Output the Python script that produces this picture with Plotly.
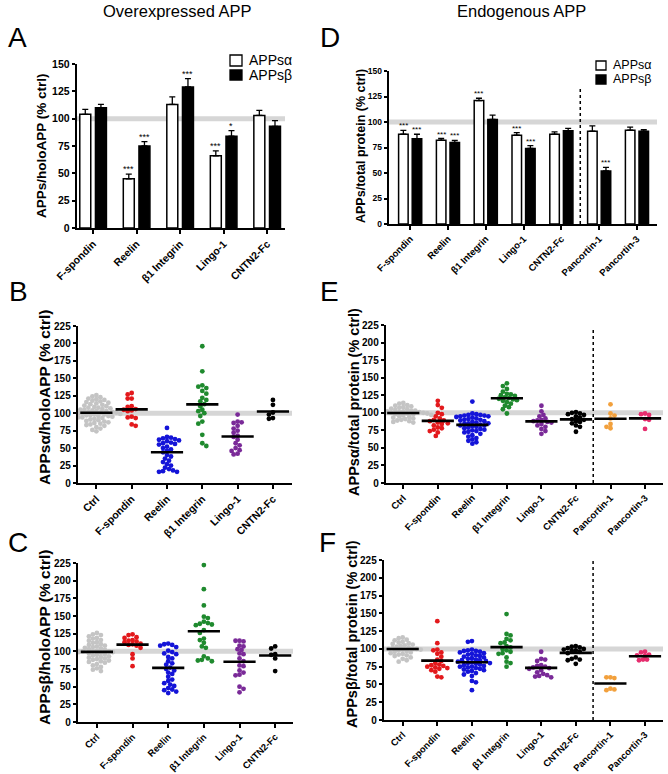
import numpy as np
import plotly.graph_objects as go

W, H = 668, 774
FONT = "Liberation Sans"

# ---------------- Panel A (overexpressed APP, bars) ----------------
catsA = ["F-spondin", "Reelin", "β1 Integrin", "Lingo-1", "CNTN2-Fc"]
A_alpha = [104, 45, 113, 66, 103]
A_alpha_err = [4.5, 4.3, 7, 4.6, 4.5]
A_beta = [110, 75, 129, 84, 93]
A_beta_err = [3, 4, 7.6, 5, 5.3]
A_alpha_stars = ["", "***", "", "***", ""]
A_beta_stars = ["", "***", "***", "*", ""]

# ---------------- Panel D (endogenous APP, bars) ----------------
catsD = ["F-spondin", "Reelin", "β1 Integrin", "Lingo-1", "CNTN2-Fc", "Pancortin-1", "Pancortin-3"]
D_alpha = [88, 82, 121, 87, 88, 91, 92]
D_alpha_err = [3.8, 1.8, 2.3, 2.6, 2.3, 5.2, 3]
D_beta = [83.5, 80, 102.5, 74, 91.5, 52, 91]
D_beta_err = [4.5, 2, 4.2, 2.9, 2.3, 3.6, 1.6]
D_alpha_stars = ["***", "***", "***", "***", "", "", ""]
D_beta_stars = ["***", "***", "", "***", "", "***", ""]

# ---------------- Scatter categories ----------------
catsL = ["Ctrl", "F-spondin", "Reelin", "β1 Integrin", "Lingo-1", "CNTN2-Fc"]
catsR = ["Ctrl", "F-spondin", "Reelin", "β1 Integrin", "Lingo-1", "CNTN2-Fc", "Pancortin-1", "Pancortin-3"]
colL = ["#c4c4c4", "#e3191c", "#1414d8", "#1f8a2e", "#7a2a98", "#000000"]
colR = colL + ["#f2a03c", "#e62d6e"]
legend_names = ["APPsα", "APPsβ"]

# ---------------- Panel B: APPsα / holoAPP ----------------
B_ctrl = [126, 124, 123, 121, 120, 119, 118, 117, 116, 115, 114, 113, 112, 111, 110, 109, 108, 108, 107,
          106, 105, 105, 104, 103, 103, 102, 102, 101, 101, 100, 100, 100, 99, 99, 98, 98, 97, 97, 96, 96,
          95, 94, 94, 93, 92, 91, 90, 89, 88, 87, 86, 85, 84, 83, 82, 80, 78, 76, 74]
B_fspondin = [129, 127, 121, 121, 110, 109, 106, 105, 104, 103, 95, 94, 93, 84, 82]
B_reelin = [79, 66, 65, 64, 63, 62, 61, 60, 58, 57, 56, 55, 52, 50, 48, 46, 44, 40, 38, 35, 32, 30, 27,
            25, 22, 20, 18, 17, 16, 16]
B_integrin = [196, 160, 140, 138, 136, 132, 128, 122, 119, 117, 113, 110, 105, 103, 100, 96, 88, 85, 69, 57, 53]
B_lingo = [98, 88, 87, 86, 82, 78, 75, 72, 68, 66, 62, 57, 54, 50, 47, 46, 42, 41]
B_cntn2 = [119, 112, 101, 98, 93, 92]

# ---------------- Panel E: APPsα / total protein ----------------
E_ctrl = [114, 113, 111, 110, 109, 108, 107, 106, 105, 104, 103, 103, 102, 102, 101, 101, 100, 100, 100,
          99, 99, 98, 98, 97, 97, 96, 95, 94, 93, 92, 91, 90, 89, 88, 87, 86]
E_fspondin = [117, 111, 107, 100, 98, 95, 92, 90, 89, 88, 86, 85, 84, 82, 79, 78, 76, 74, 72, 67]
E_reelin = [116, 99, 98, 97, 97, 96, 96, 95, 95, 94, 93, 92, 91, 90, 90, 89, 88, 87, 86, 85, 85, 84, 83,
            82, 82, 81, 80, 79, 78, 77, 76, 75, 74, 73, 72, 70, 68, 66, 64, 62, 60, 58, 56]
E_integrin = [142, 138, 134, 130, 127, 126, 125, 124, 122, 121, 120, 119, 118, 117, 115, 113, 110, 108, 105, 99]
E_lingo = [110, 102, 97, 95, 92, 90, 89, 88, 87, 86, 84, 82, 80, 77, 74, 70]
E_cntn2 = [101, 100, 99, 98, 97, 95, 93, 91, 90, 88, 87, 85, 82, 80, 73]
E_panc1 = [112, 99, 96, 92, 84, 80, 78]
E_panc3 = [99, 98, 97, 91, 90, 77]

# ---------------- Panel C: APPsβ / holoAPP ----------------
C_ctrl = [126, 124, 123, 121, 119, 118, 116, 115, 113, 112, 110, 109, 108, 107, 106, 105, 104, 103, 102,
          101, 100, 100, 100, 99, 99, 98, 97, 96, 95, 94, 93, 92, 91, 90, 89, 88, 87, 86, 85, 84, 82, 80,
          78, 76, 74, 72]
C_fspondin = [124, 123, 120, 119, 116, 115, 114, 113, 111, 110, 109, 108, 105, 96, 90, 79]
C_reelin = [111, 110, 109, 108, 106, 101, 99, 97, 96, 92, 90, 86, 83, 81, 77, 75, 73, 70, 68, 64, 60, 58,
            55, 53, 51, 48, 46, 45, 43, 41]
C_integrin = [222, 188, 165, 149, 147, 142, 140, 139, 138, 137, 130, 126, 118, 116, 112, 107, 105, 93, 90,
              88, 87, 86]
C_lingo = [115, 115, 114, 108, 107, 103, 102, 97, 96, 90, 86, 80, 79, 73, 70, 67, 66, 50, 47, 42]
C_cntn2 = [107, 104, 96, 95, 90, 72]

# ---------------- Panel F: APPsβ / total protein ----------------
F_ctrl = [116, 115, 113, 112, 110, 109, 108, 107, 106, 105, 104, 103, 102, 101, 100, 100, 100, 99, 99, 98,
          97, 96, 95, 94, 93, 92, 91, 90, 88, 86, 84, 82]
F_fspondin = [139, 108, 99, 98, 95, 93, 89, 85, 83, 80, 78, 77, 76, 75, 74, 73, 72, 70, 68, 61, 60]
F_reelin = [111, 110, 99, 98, 97, 97, 96, 95, 94, 93, 92, 91, 90, 89, 88, 87, 86, 85, 84, 84, 83, 82, 81,
            80, 80, 79, 78, 77, 76, 75, 75, 74, 73, 72, 71, 70, 69, 68, 66, 64, 62, 55, 53, 42]
F_integrin = [149, 121, 119, 114, 112, 109, 108, 104, 102, 100, 98, 96, 94, 93, 88, 82, 80, 75]
F_lingo = [96, 86, 85, 83, 77, 76, 75, 74, 73, 72, 70, 67, 65, 63, 62, 61, 60]
F_cntn2 = [104, 103, 102, 101, 100, 99, 98, 97, 96, 94, 88, 86, 85, 84, 79]
F_panc1 = [60, 60, 59, 44, 43, 42]
F_panc3 = [96, 95, 92, 91, 90, 85, 85, 84]

# ---------------- geometry (pixels) ----------------
G = {
    1: (77, 285, 64, 228, [-0.37, 4.41], 150),     # A
    2: (389, 657, 71, 224, [-0.56, 6.53], 150),    # D
    3: (78, 292, 326, 483, [-0.52, 5.54], 225),    # B
    4: (386, 663, 325, 483, [-0.50, 7.52], 225),   # E
    5: (78, 293, 563, 722, [-0.53, 5.50], 225),    # C
    6: (384, 663, 560, 720, [-0.54, 7.52], 225),   # F
}

fig = go.Figure()


def ax_names(n):
    s = "" if n == 1 else str(n)
    return "x" + s, "y" + s, "xaxis" + s, "yaxis" + s


def swarm_offsets(vals, xpx, ypx, d=3.7, step=2.0):
    vals = np.asarray(vals, float)
    order = np.argsort(-vals)
    placed = []
    off = np.zeros(len(vals))
    for i in order:
        yp = vals[i] * ypx
        k = 0
        sign_first = 1 if (len(placed) % 2 == 0) else -1
        chosen = None
        while chosen is None:
            cands = [0.0] if k == 0 else [sign_first * k * step, -sign_first * k * step]
            for c in cands:
                ok = True
                for (px, py) in placed:
                    if abs(py - yp) < d and (px - c) ** 2 + (py - yp) ** 2 < d * d:
                        ok = False
                        break
                if ok:
                    chosen = c
                    break
            k += 1
        placed.append((chosen, yp))
        off[i] = chosen / xpx
    return off


def setup_axes(n, cats, ytitle, ttl_size, ttl_x, ttl_y, tick_size, xtick_size, ymax):
    x0, x1, yt, yb, xr, _ = G[n]
    xa, ya, xk, yk = ax_names(n)
    fig.update_layout(**{
        xk: dict(domain=[x0 / W, x1 / W], range=xr, anchor=ya, showgrid=False, zeroline=False,
                 automargin=False,
                 showline=True, linecolor="black", linewidth=1.5, ticks="outside", ticklen=4,
                 tickwidth=1.5, tickcolor="black", tickmode="array",
                 tickvals=list(range(len(cats))), ticktext=cats, tickangle=-45,
                 tickfont=dict(family=FONT, size=xtick_size, color="black", weight="bold")),
        yk: dict(domain=[1 - yb / H, 1 - yt / H], range=[0, ymax], anchor=xa, showgrid=False,
                 zeroline=False, showline=True, linecolor="black", linewidth=1.5, ticks="outside",
                 automargin=False,
                 ticklen=3.5, tickwidth=1.5, tickcolor="black", tickmode="linear", tick0=0, dtick=25,
                 tickfont=dict(family=FONT, size=tick_size, color="black", weight="bold")),
    })
    fig.add_annotation(text=ytitle, textangle=-90, x=ttl_x / W, y=1 - ttl_y / H, xref="paper",
                       yref="paper", showarrow=False, xanchor="center", yanchor="middle",
                       font=dict(family=FONT, size=ttl_size, color="black", weight="bold"))
    fig.add_shape(type="line", xref=f"{xa} domain", yref=ya, x0=0, x1=1, y0=100, y1=100,
                  line=dict(color="#d6d6d6", width=5), layer="below")


def add_bars(n, cats, a, ae, b, be, sa, sb, star_size):
    xa, ya, _, _ = ax_names(n)
    idx = list(range(len(cats)))
    fig.add_trace(go.Bar(x=idx, y=a, name=legend_names[0], xaxis=xa, yaxis=ya, showlegend=False,
                         marker=dict(color="white", line=dict(color="black", width=1.5)),
                         error_y=dict(type="data", array=ae, arrayminus=[0] * len(ae), symmetric=False,
                                      color="black", thickness=1.3, width=3)))
    fig.add_trace(go.Bar(x=idx, y=b, name=legend_names[1], xaxis=xa, yaxis=ya, showlegend=False,
                         marker=dict(color="black", line=dict(color="black", width=1.5)),
                         error_y=dict(type="data", array=be, arrayminus=[0] * len(be), symmetric=False,
                                      color="black", thickness=1.3, width=3)))
    half = (1 - BARGAP) / 4
    for i in idx:
        for val, err, st, sgn in ((a[i], ae[i], sa[i], -1), (b[i], be[i], sb[i], 1)):
            if st:
                fig.add_annotation(x=i + sgn * half, y=val + err, xref=xa, yref=ya, text=st,
                                   showarrow=False, yanchor="bottom", yshift=-2,
                                   font=dict(family=FONT, size=star_size, color="black"))


def add_legend(bx0, bx1, rows, tx, size):
    for (y0, y1), fill, name in zip(rows, ["white", "black"], legend_names):
        fig.add_shape(type="rect", xref="paper", yref="paper", x0=bx0 / W, x1=bx1 / W,
                      y0=1 - y1 / H, y1=1 - y0 / H, fillcolor=fill, line=dict(color="black", width=1.3))
        fig.add_annotation(text=name, x=tx / W, y=1 - (y0 + y1) / 2 / H, xref="paper", yref="paper",
                           showarrow=False, xanchor="left", yanchor="middle",
                           font=dict(family=FONT, size=size, color="black"))


def add_scatter(n, cats, groups, colors):
    xa, ya, _, _ = ax_names(n)
    x0, x1, yt, yb, xr, ymax = G[n]
    xpx = (x1 - x0) / (xr[1] - xr[0])
    ypx = (yb - yt) / ymax
    for i, (vals, c) in enumerate(zip(groups, colors)):
        off = swarm_offsets(vals, xpx, ypx)
        fig.add_trace(go.Scatter(x=i + off, y=vals, mode="markers", xaxis=xa, yaxis=ya,
                                 showlegend=False, cliponaxis=False,
                                 marker=dict(size=4.8, color=c, line=dict(width=0))))
    for i, vals in enumerate(groups):
        fig.add_trace(go.Scatter(x=[i], y=[float(np.mean(vals))], mode="markers", xaxis=xa, yaxis=ya,
                                 showlegend=False, cliponaxis=False,
                                 marker=dict(symbol="line-ew", size=23,
                                             line=dict(color="black", width=2.6))))


def add_divider(n, xpos, ytop):
    xa, ya, _, _ = ax_names(n)
    fig.add_shape(type="line", xref=xa, yref=ya, x0=xpos, x1=xpos, y0=0, y1=ytop,
                  line=dict(color="black", width=1.5, dash="dot"))


BARGAP = 0.28

# A
setup_axes(1, catsA, "APPs/holoAPP (% ctrl)", 13.5, 42, 146, 10.5, 10.5, 150)
add_bars(1, catsA, A_alpha, A_alpha_err, A_beta, A_beta_err, A_alpha_stars, A_beta_stars, 9)
add_legend(230, 242, [(55, 66), (70, 80)], 247, 14)
# D
setup_axes(2, catsD, "APPs/total protein (% ctrl)", 12.5, 361, 146, 8.5, 9.5, 150)
add_bars(2, catsD, D_alpha, D_alpha_err, D_beta, D_beta_err, D_alpha_stars, D_beta_stars, 8)
add_divider(2, 4.5, 135)
add_legend(596, 606, [(61, 70), (75, 84)], 611, 12.5)
# B
setup_axes(3, catsL, "APPsα/holoAPP (% ctrl)", 15.5, 44, 398, 10, 10.5, 225)
add_scatter(3, catsL, [B_ctrl, B_fspondin, B_reelin, B_integrin, B_lingo, B_cntn2], colL)
# E
setup_axes(4, catsR, "APPsα/total protein (% ctrl)", 14.5, 354, 402, 10, 9.5, 225)
add_scatter(4, catsR, [E_ctrl, E_fspondin, E_reelin, E_integrin, E_lingo, E_cntn2, E_panc1, E_panc3], colR)
add_divider(4, 5.5, 220)
# C
setup_axes(5, catsL, "APPsβ/holoAPP (% ctrl)", 15.5, 44, 638, 10, 9.4, 225)
add_scatter(5, catsL, [C_ctrl, C_fspondin, C_reelin, C_integrin, C_lingo, C_cntn2], colL)
# F
setup_axes(6, catsR, "APPsβ/total protein (% ctrl)", 14.5, 352, 634, 10, 9.4, 225)
add_scatter(6, catsR, [F_ctrl, F_fspondin, F_reelin, F_integrin, F_lingo, F_cntn2, F_panc1, F_panc3], colR)
add_divider(6, 5.5, 225)

# titles and panel letters
for txt, xp, yp in (("Overexpressed APP", 177, 11), ("Endogenous APP", 521, 11)):
    fig.add_annotation(text=txt, x=xp / W, y=1 - yp / H, xref="paper", yref="paper", showarrow=False,
                       xanchor="center", yanchor="middle", font=dict(family=FONT, size=16.5, color="black"))
for txt, xp, yp in (("A", 17, 37), ("D", 330, 37), ("B", 18, 292), ("E", 329, 292),
                    ("C", 18, 542), ("F", 327, 542)):
    fig.add_annotation(text=txt, x=xp / W, y=1 - yp / H, xref="paper", yref="paper", showarrow=False,
                       xanchor="center", yanchor="middle", font=dict(family=FONT, size=28, color="black"))

fig.update_layout(
    width=W, height=H, margin=dict(l=0, r=0, t=0, b=0, autoexpand=False),
    paper_bgcolor="white", plot_bgcolor="white", showlegend=False,
    barmode="group", bargap=BARGAP, bargroupgap=0.3,
    font=dict(family=FONT, color="black"),
)

fig.write_html("out.html", config={"displayModeBar": False},
               post_script="document.body.style.margin='0px';")
